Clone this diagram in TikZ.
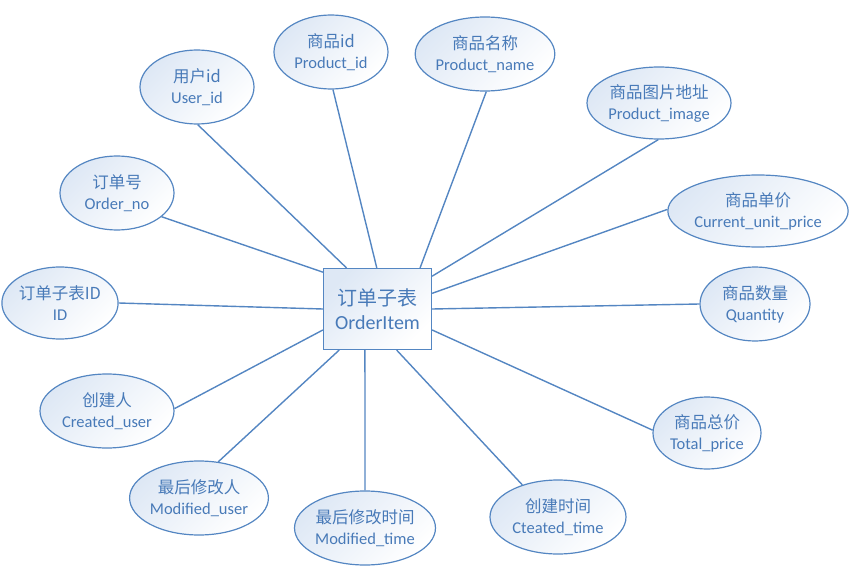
\documentclass[tikz,border=0pt]{standalone}
\usepackage{fontspec}
\setmainfont{Carlito}
\newfontfamily\cjk{Noto Sans CJK SC}
\usetikzlibrary{shapes.geometric}
\definecolor{erline}{RGB}{84,134,194}
\definecolor{ertext}{RGB}{72,122,184}
\definecolor{erfill}{RGB}{222,232,245}

\begin{document}
\begin{tikzpicture}[x=1pt, y=-1pt,
	every node/.style={text=ertext, align=center, font=\fontsize{16.5}{21}\selectfont},
	attr/.style={ellipse, draw=erline, line width=1.2pt, top color=erfill, bottom color=white, shading angle=45, inner sep=0pt, minimum height=74},
	entity/.style={rectangle, draw=erline, line width=1.2pt, top color=erfill, bottom color=white, shading angle=45, inner sep=0pt, font=\fontsize{20}{23.5}\selectfont},
	link/.style={draw=erline, line width=1.4pt}]
	\useasboundingbox (0,0) rectangle (859,572);
	\node[entity, minimum width=108, minimum height=81] (item) at (377.5,309) {{\cjk 订单子表}\\OrderItem};
	\node[attr, minimum width=114] (uid) at (197,87) {{\cjk 用户id}\\User\_id};
	\node[attr, minimum width=114] (pid) at (331,52) {{\cjk 商品id}\\Product\_id};
	\node[attr, minimum width=134] (pname) at (485,54) {{\cjk 商品名称}\\Product\_name};
	\node[attr, minimum width=144, minimum height=72] (pimg) at (659,103) {{\cjk 商品图片地址}\\Product\_image};
	\node[attr, minimum width=114] (ono) at (117,193) {{\cjk 订单号}\\Order\_no};
	\node[attr, minimum width=170, minimum height=72] (price) at (758,211) {{\cjk 商品单价}\\Current\_unit\_price};
	\node[attr, minimum width=114, minimum height=72] (id) at (60,303) {{\cjk 订单子表ID}\\ID};
	\node[attr, minimum width=110] (qty) at (755,304) {{\cjk 商品数量}\\Quantity};
	\node[attr, minimum width=134] (cuser) at (107,411) {{\cjk 创建人}\\Created\_user};
	\node[attr, minimum width=108, minimum height=72] (total) at (707,433) {{\cjk 商品总价}\\Total\_price};
	\node[attr, minimum width=134] (muser) at (199,498) {{\cjk 最后修改人}\\Modified\_user};
	\node[attr, minimum width=134] (mtime) at (365,528) {{\cjk 最后修改时间}\\Modified\_time};
	\node[attr, minimum width=136] (ctime) at (558,517) {{\cjk 创建时间}\\Cteated\_time};
	\draw[link] (item.127) -- (uid.-89);
	\draw[link] (item.91) -- (pid.-87);
	\draw[link] (item.44) -- (pname.-88);
	\draw[link] (item.31) -- (pimg.-91);
	\draw[link] (item.16) -- (price.179);
	\draw[link] (item.0) -- (qty.180);
	\draw[link] (item.-21) -- (total.177);
	\draw[link] (item.-65) -- (ctime.138);
	\draw[link] (item.-107) -- (mtime.90);
	\draw[link] (item.-133) -- (muser.62);
	\draw[link] (item.-159) -- (cuser.2);
	\draw[link] (item.180) -- (id.0);
	\draw[link] (item.146) -- (ono.-28);
\end{tikzpicture}
\end{document}
